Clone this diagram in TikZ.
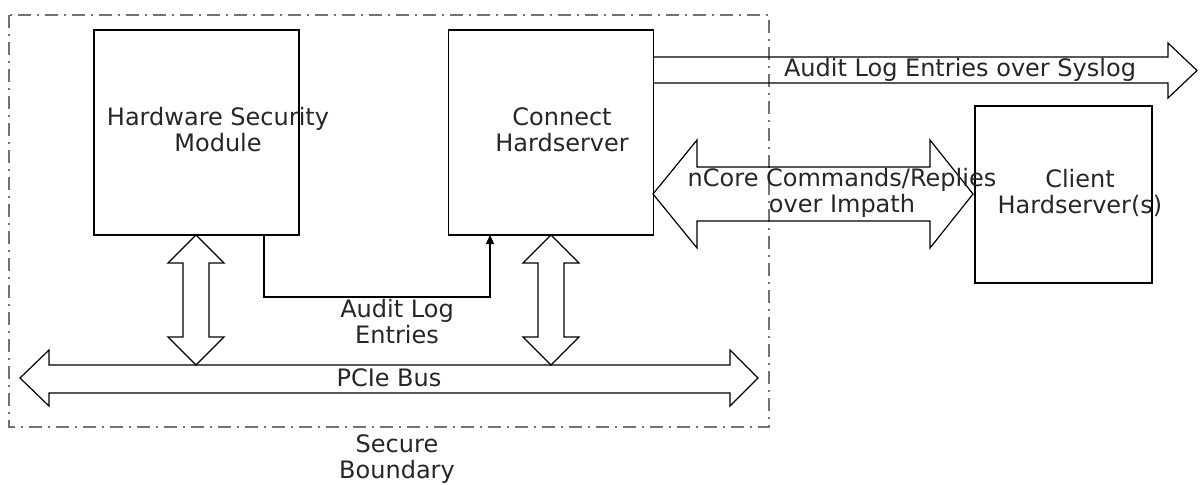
\documentclass[tikz,border=0pt]{standalone}
\usepackage{fontspec}
\setmainfont{DejaVu Sans}
\usepackage{tikz}
\usetikzlibrary{positioning,arrows.meta}

\tikzset{
	box/.style={draw, line width=0.6pt, inner sep=0pt, outer sep=0pt, minimum size=102.5pt},
	lbl/.style={align=center, inner sep=0pt, font=\fontsize{12}{13}\selectfont, text=black!85},
	fat/.style={draw, line width=0.6pt, line join=miter},
	boundary/.style={draw=black!55, line width=0.9pt, dash pattern=on 6.5pt off 3pt on 1pt off 3pt}
}

\begin{document}
\begin{tikzpicture}[x=0.5pt, y=-0.5pt]
	\useasboundingbox (0,0) rectangle (1200,484);
	
	% 安全边界
	\draw[boundary] (9,15) rectangle (769,427);
	\node[lbl] (secure) at (397,459) {Secure\\Boundary};
	
	% 三个方框
	\node[box] (hsm) at (196.5,132.5) {};
	\node[box] (connect) at (551,132.5) {};
	\node[box, minimum size=88.5pt] (client) at (1063.5,194.5) {};
	
	\node[lbl] (hsmtxt) at (218,130) {Hardware Security\\Module};
	\node[lbl] (connecttxt) at (562,130) {Connect\\Hardserver};
	\node[lbl] (clienttxt) at (1080,193) {Client\\Hardserver(s)};
	
	% HSM -> Connect Hardserver 的审计日志
	\coordinate (logsrc) at (264,235);
	\coordinate (logdst) at (490,235);
	\draw[line width=0.6pt, -{Triangle[length=4.5pt,width=4pt]}] (logsrc) -- ++(0,62) -| (logdst);
	\node[lbl] (logtxt) at (397,322) {Audit Log\\Entries};
	
	% Syslog 单向粗箭头
	\draw[fat] (653,57) -- (1168,57) -- (1168,43) -- (1197,70.5) -- (1168,98) -- (1168,83) -- (653,83);
	\node[lbl] (syslog) at (960,70) {Audit Log Entries over Syslog};
	
	% nCore 双向粗箭头
	\draw[fat] (653,194) -- (697,140) -- (697,167) -- (930,167) -- (930,140) -- (973,194)
		-- (930,248) -- (930,221) -- (697,221) -- (697,248) -- cycle;
	\node[lbl] (ncore) at (842,193) {nCore Commands/Replies\\over Impath};
	
	% 竖直双向粗箭头（两个方框到总线）
	\foreach \cx in {196,551}
	\draw[fat] (\cx,235) -- (\cx+28,263) -- (\cx+13,263) -- (\cx+13,337) -- (\cx+28,337) -- (\cx,365)
		-- (\cx-28,337) -- (\cx-13,337) -- (\cx-13,263) -- (\cx-28,263) -- cycle;
	
	% PCIe 总线
	\draw[fat] (20,378) -- (49,350) -- (49,365) -- (730,365) -- (730,350) -- (758,378)
		-- (730,406) -- (730,393) -- (49,393) -- (49,406) -- cycle;
	\node[lbl] (pcie) at (389,378) {PCIe Bus};
\end{tikzpicture}
\end{document}
